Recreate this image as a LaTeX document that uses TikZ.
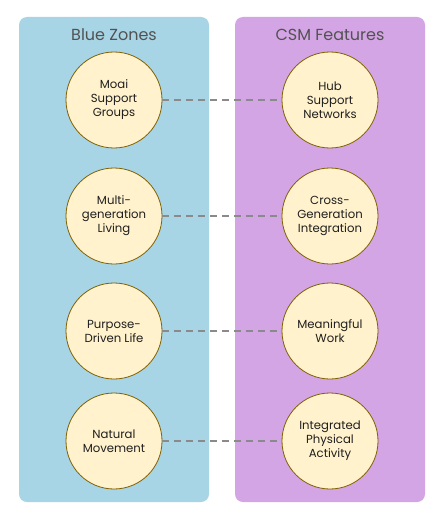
\documentclass[tikz,border=0pt]{standalone}
\usepackage{fontspec}
\setmainfont{Poppins}
\begin{document}
\begin{tikzpicture}[x=1pt,y=-1pt,
  panel/.style={rounded corners=8pt, draw=none},
  title/.style={text=black!68, font=\fontsize{16}{19}\selectfont, anchor=center},
  item/.style={circle, draw=circborder, line width=0.8pt, fill=circfill, minimum size=96pt, inner sep=0pt, align=center, text=black!88, font=\fontsize{11.7}{14}\selectfont},
  link/.style={draw=linkgray, line width=2pt, dash pattern=on 7pt off 5pt}]
\definecolor{bluepanel}{HTML}{A8D5E5}
\definecolor{purplepanel}{HTML}{D4A5E5}
\definecolor{circfill}{HTML}{FFF2CC}
\definecolor{circborder}{HTML}{7F6000}
\definecolor{linkgray}{HTML}{8A8A8A}
\useasboundingbox (0,0) rectangle (446,524);
\fill[white] (0,0) rectangle (446,524);
\fill[bluepanel,panel] (19,17) rectangle (209,502);
\fill[purplepanel,panel] (235,17) rectangle (425,502);
\node[title] (t1) at (114,35) {Blue Zones};
\node[title] (t2) at (330,35) {CSM Features};
\node[item] (l1) at (114,100) {Moai\\Support\\Groups};
\node[item] (l2) at (114,216) {Multi-\\generation\\Living};
\node[item] (l3) at (114,331) {Purpose-\\Driven Life};
\node[item] (l4) at (114,441) {Natural\\Movement};
\node[item] (r1) at (330,100) {Hub\\Support\\Networks};
\node[item] (r2) at (330,216) {Cross-\\Generation\\Integration};
\node[item] (r3) at (330,331) {Meaningful\\Work};
\node[item] (r4) at (330,441) {Integrated\\Physical\\Activity};
\foreach \i in {1,2,3,4} \draw[link] (l\i) -- (r\i);
\end{tikzpicture}
\end{document}
